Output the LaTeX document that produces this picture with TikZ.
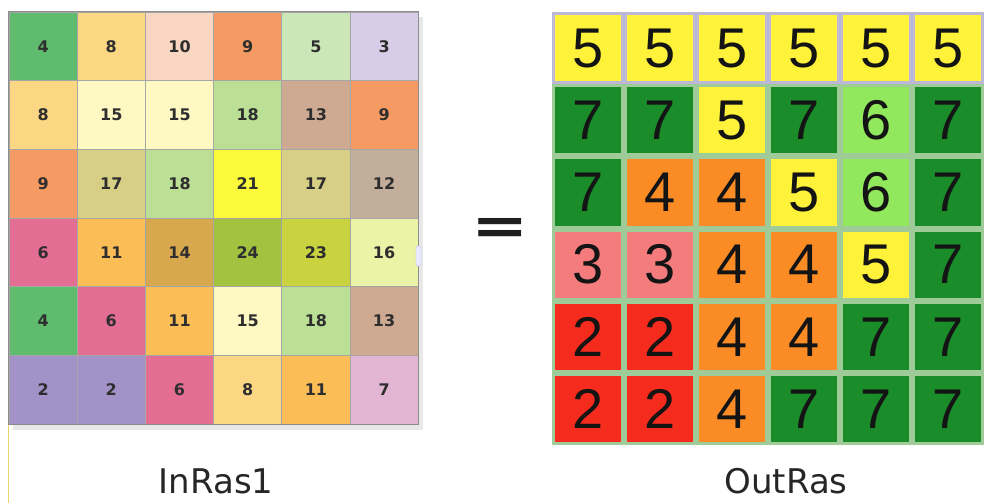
\documentclass[tikz,border=0pt]{standalone}
\usepackage{fontspec}
\setmainfont{DejaVu Sans}
\newfontfamily\arialfont{Liberation Sans}
\usepackage{xcolor}
\usepackage{graphicx}
\usepackage{tikz}
\usetikzlibrary{positioning}
% input raster colours
\definecolor{inGreen}{HTML}{5FBB6E}
\definecolor{inSand}{HTML}{FBD784}
\definecolor{inPeach}{HTML}{F8D6C2}
\definecolor{inOrange}{HTML}{F49A62}
\definecolor{inMint}{HTML}{CBE7B8}
\definecolor{inLilac}{HTML}{D8CDE8}
\definecolor{inCream}{HTML}{FEF8C2}
\definecolor{inLime}{HTML}{BBDF95}
\definecolor{inTan}{HTML}{CFAA92}
\definecolor{inKhaki}{HTML}{D8CF86}
\definecolor{inYellow}{HTML}{FBF93A}
\definecolor{inTaupe}{HTML}{C2AE9A}
\definecolor{inPink}{HTML}{E46D94}
\definecolor{inGold}{HTML}{FBBE57}
\definecolor{inOchre}{HTML}{D8A84E}
\definecolor{inOlive}{HTML}{A2C240}
\definecolor{inChart}{HTML}{C9D23F}
\definecolor{inPale}{HTML}{EBF4A6}
\definecolor{inPurple}{HTML}{A292C8}
\definecolor{inRose}{HTML}{E2B6D3}
% output raster colours
\definecolor{outYellow}{HTML}{FEF23A}
\definecolor{outGreen}{HTML}{1A8C2A}
\definecolor{outLime}{HTML}{92E85C}
\definecolor{outOrange}{HTML}{FB8C25}
\definecolor{outSalmon}{HTML}{F47C7C}
\definecolor{outRed}{HTML}{F52B1D}
\definecolor{outLine}{HTML}{9FCB99}
\definecolor{outLav}{HTML}{BDB8D8}
\definecolor{edgeGold}{HTML}{E9D46E}

\begin{document}
\begin{tikzpicture}[
    x=1pt,y=-1pt,
    incell/.style={rectangle,draw=black!35,line width=0.8pt,inner sep=0pt,
                   minimum width=68.2pt,minimum height=68.7pt,
                   text=black!82,font=\fontsize{16}{16}\selectfont\bfseries},
    outcell/.style={rectangle,draw=outLine,line width=3pt,inner sep=0pt,
                   minimum width=69pt,minimum height=69.2pt,
                   text=black!92,font=\fontsize{56}{56}\selectfont\arialfont},
    toprow/.style={draw=outLav},
    caption/.style={text=black!85,font=\fontsize{34}{34}\selectfont,anchor=base}
  ]
  \useasboundingbox (0,0) rectangle (984,503);
  %% thin frame line at the left edge and soft shadow
  \draw[edgeGold,line width=1.5pt] (8.5,12) -- (8.5,503);
  \fill[black!9] (13,17) rectangle (423,430);
  %% InRas1, row 1
  \node[incell,fill=inGreen]  (in11) at (43.1,46.35)  {4};
  \node[incell,fill=inSand]   (in12) at (111.3,46.35) {8};
  \node[incell,fill=inPeach]  (in13) at (179.5,46.35) {10};
  \node[incell,fill=inOrange] (in14) at (247.7,46.35) {9};
  \node[incell,fill=inMint]   (in15) at (315.9,46.35) {5};
  \node[incell,fill=inLilac]  (in16) at (384.1,46.35) {3};
  %% row 2
  \node[incell,fill=inSand]   (in21) at (43.1,115.05)  {8};
  \node[incell,fill=inCream]  (in22) at (111.3,115.05) {15};
  \node[incell,fill=inCream]  (in23) at (179.5,115.05) {15};
  \node[incell,fill=inLime]   (in24) at (247.7,115.05) {18};
  \node[incell,fill=inTan]    (in25) at (315.9,115.05) {13};
  \node[incell,fill=inOrange] (in26) at (384.1,115.05) {9};
  %% row 3
  \node[incell,fill=inOrange] (in31) at (43.1,183.75)  {9};
  \node[incell,fill=inKhaki]  (in32) at (111.3,183.75) {17};
  \node[incell,fill=inLime]   (in33) at (179.5,183.75) {18};
  \node[incell,fill=inYellow] (in34) at (247.7,183.75) {21};
  \node[incell,fill=inKhaki]  (in35) at (315.9,183.75) {17};
  \node[incell,fill=inTaupe]  (in36) at (384.1,183.75) {12};
  %% row 4
  \node[incell,fill=inPink]   (in41) at (43.1,252.45)  {6};
  \node[incell,fill=inGold]   (in42) at (111.3,252.45) {11};
  \node[incell,fill=inOchre]  (in43) at (179.5,252.45) {14};
  \node[incell,fill=inOlive]  (in44) at (247.7,252.45) {24};
  \node[incell,fill=inChart]  (in45) at (315.9,252.45) {23};
  \node[incell,fill=inPale]   (in46) at (384.1,252.45) {16};
  %% row 5
  \node[incell,fill=inGreen]  (in51) at (43.1,321.15)  {4};
  \node[incell,fill=inPink]   (in52) at (111.3,321.15) {6};
  \node[incell,fill=inGold]   (in53) at (179.5,321.15) {11};
  \node[incell,fill=inCream]  (in54) at (247.7,321.15) {15};
  \node[incell,fill=inLime]   (in55) at (315.9,321.15) {18};
  \node[incell,fill=inTan]    (in56) at (384.1,321.15) {13};
  %% row 6
  \node[incell,fill=inPurple] (in61) at (43.1,389.85)  {2};
  \node[incell,fill=inPurple] (in62) at (111.3,389.85) {2};
  \node[incell,fill=inPink]   (in63) at (179.5,389.85) {6};
  \node[incell,fill=inSand]   (in64) at (247.7,389.85) {8};
  \node[incell,fill=inGold]   (in65) at (315.9,389.85) {11};
  \node[incell,fill=inRose]   (in66) at (384.1,389.85) {7};
  %% outer frame and the small handle on the right
  \draw[black!45,line width=1pt] (in11.north west) rectangle (in66.south east);
  \draw[blue!25,fill=blue!8,rounded corners=2pt] (416,246) rectangle (421,266);
  %% equals sign
  \node[font=\fontsize{72}{72}\selectfont\bfseries,text=black!88,anchor=base,inner sep=0pt]
        (eq) at (500,244) {\scalebox{0.95}[0.75]{=}};
  %% OutRas, row 1
  \node[outcell,toprow,fill=outYellow] (out11) at (588,48.1) {5};
  \node[outcell,toprow,fill=outYellow] (out12) at (660,48.1) {5};
  \node[outcell,toprow,fill=outYellow] (out13) at (732,48.1) {5};
  \node[outcell,toprow,fill=outYellow] (out14) at (804,48.1) {5};
  \node[outcell,toprow,fill=outYellow] (out15) at (876,48.1) {5};
  \node[outcell,toprow,fill=outYellow] (out16) at (948,48.1) {5};
  %% row 2
  \node[outcell,fill=outGreen]  (out21) at (588,120.3) {7};
  \node[outcell,fill=outGreen]  (out22) at (660,120.3) {7};
  \node[outcell,fill=outYellow] (out23) at (732,120.3) {5};
  \node[outcell,fill=outGreen]  (out24) at (804,120.3) {7};
  \node[outcell,fill=outLime]   (out25) at (876,120.3) {6};
  \node[outcell,fill=outGreen]  (out26) at (948,120.3) {7};
  %% row 3
  \node[outcell,fill=outGreen]  (out31) at (588,192.5) {7};
  \node[outcell,fill=outOrange] (out32) at (660,192.5) {4};
  \node[outcell,fill=outOrange] (out33) at (732,192.5) {4};
  \node[outcell,fill=outYellow] (out34) at (804,192.5) {5};
  \node[outcell,fill=outLime]   (out35) at (876,192.5) {6};
  \node[outcell,fill=outGreen]  (out36) at (948,192.5) {7};
  %% row 4
  \node[outcell,fill=outSalmon] (out41) at (588,264.7) {3};
  \node[outcell,fill=outSalmon] (out42) at (660,264.7) {3};
  \node[outcell,fill=outOrange] (out43) at (732,264.7) {4};
  \node[outcell,fill=outOrange] (out44) at (804,264.7) {4};
  \node[outcell,fill=outYellow] (out45) at (876,264.7) {5};
  \node[outcell,fill=outGreen]  (out46) at (948,264.7) {7};
  %% row 5
  \node[outcell,fill=outRed]    (out51) at (588,336.9) {2};
  \node[outcell,fill=outRed]    (out52) at (660,336.9) {2};
  \node[outcell,fill=outOrange] (out53) at (732,336.9) {4};
  \node[outcell,fill=outOrange] (out54) at (804,336.9) {4};
  \node[outcell,fill=outGreen]  (out55) at (876,336.9) {7};
  \node[outcell,fill=outGreen]  (out56) at (948,336.9) {7};
  %% row 6
  \node[outcell,fill=outRed]    (out61) at (588,409.1) {2};
  \node[outcell,fill=outRed]    (out62) at (660,409.1) {2};
  \node[outcell,fill=outOrange] (out63) at (732,409.1) {4};
  \node[outcell,fill=outGreen]  (out64) at (804,409.1) {7};
  \node[outcell,fill=outGreen]  (out65) at (876,409.1) {7};
  \node[outcell,fill=outGreen]  (out66) at (948,409.1) {7};
  %% captions
  \node[caption] (inlab)  at (216,493) {InRas1};
  \node[caption] (outlab) at (786,493) {OutRas};
\end{tikzpicture}
\end{document}
